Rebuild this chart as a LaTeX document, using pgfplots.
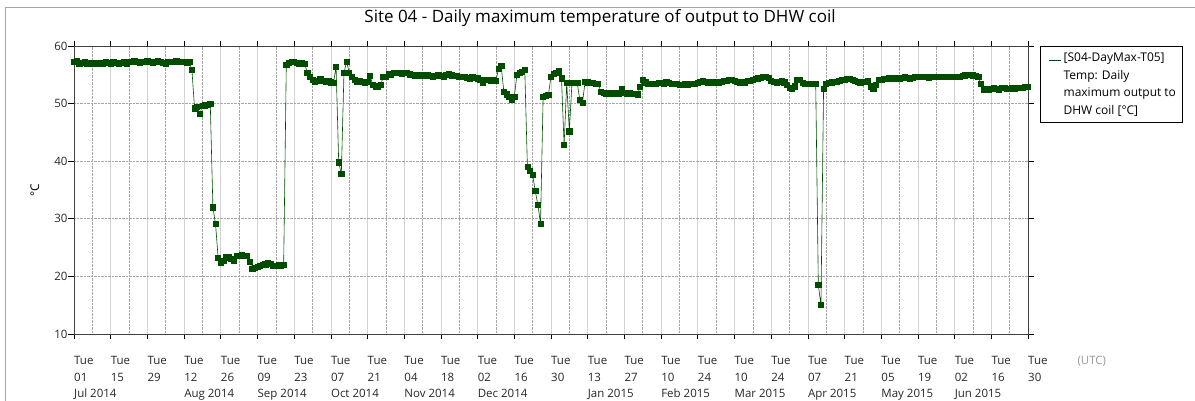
\documentclass[border=0pt]{standalone}
\usepackage{pgfplots}
\pgfplotsset{compat=1.18}
\usepackage{pgfplotstable}
\usepackage{fontspec}
\setmainfont{Open Sans}
\definecolor{dgreen}{RGB}{0,77,0}

\pgfplotstableread[row sep=\\]{
d v\\
0 57.2\\ 1 57.4\\ 2 57.0\\ 3 57.1\\ 4 57.3\\ 5 57.0\\ 6 56.9\\ 7 57.0\\ 8 57.1\\ 9 57.0\\
10 56.9\\ 11 57.0\\ 12 57.2\\ 13 57.1\\ 14 57.0\\ 15 57.3\\ 16 57.1\\ 17 56.9\\ 18 57.1\\ 19 57.2\\
20 57.0\\ 21 57.2\\ 22 57.3\\ 23 57.4\\ 24 57.2\\ 25 57.1\\ 26 57.3\\ 27 57.2\\ 28 57.4\\ 29 57.3\\
30 57.1\\ 31 57.2\\ 32 57.4\\ 33 57.3\\ 34 57.1\\ 35 57.0\\ 36 57.2\\ 37 57.3\\ 38 57.2\\ 39 57.4\\
40 57.2\\ 41 57.3\\ 42 57.2\\ 43 57.1\\ 44 57.2\\ 45 55.8\\ 46 49.2\\ 47 49.5\\ 48 48.2\\ 49 49.6\\
50 49.7\\ 51 49.8\\ 52 49.9\\ 53 32.0\\ 54 29.1\\ 55 23.2\\ 56 22.4\\ 57 22.7\\ 58 23.3\\ 59 23.4\\
60 23.0\\ 61 22.8\\ 62 23.6\\ 63 23.6\\ 64 23.7\\ 65 23.6\\ 66 23.6\\ 67 22.6\\ 68 21.3\\ 69 21.5\\
70 21.6\\ 71 21.8\\ 72 22.0\\ 73 22.1\\ 74 22.3\\ 75 22.2\\ 76 21.9\\ 77 21.9\\ 78 22.0\\ 79 21.9\\
80 22.0\\ 81 56.7\\ 82 57.1\\ 83 57.3\\ 84 57.2\\ 85 57.1\\ 86 57.0\\ 87 57.1\\ 88 56.9\\ 89 55.4\\
90 54.7\\ 91 54.2\\ 92 53.8\\ 93 54.0\\ 94 54.3\\ 95 53.9\\ 96 53.8\\ 97 53.9\\ 98 53.7\\ 99 53.6\\
100 56.4\\ 101 39.8\\ 102 37.8\\ 103 55.3\\ 104 57.3\\ 105 55.4\\ 106 54.6\\ 107 54.2\\ 108 53.8\\ 109 53.9\\
110 53.8\\ 111 53.7\\ 112 53.8\\ 113 54.8\\ 114 53.2\\ 115 52.9\\ 116 53.0\\ 117 53.2\\ 118 54.7\\ 119 54.6\\
120 55.2\\ 121 55.0\\ 122 55.3\\ 123 55.3\\ 124 55.3\\ 125 55.2\\ 126 55.3\\ 127 55.3\\ 128 55.1\\ 129 55.0\\
130 54.9\\ 131 55.0\\ 132 54.8\\ 133 54.9\\ 134 54.8\\ 135 54.9\\ 136 54.8\\ 137 54.7\\ 138 54.8\\ 139 54.9\\
140 54.8\\ 141 54.7\\ 142 55.0\\ 143 55.1\\ 144 54.9\\ 145 54.8\\ 146 54.8\\ 147 54.7\\ 148 54.6\\ 149 54.7\\
150 54.5\\ 151 54.3\\ 152 54.6\\ 153 54.5\\ 154 54.4\\ 155 54.2\\ 156 53.6\\ 157 54.2\\ 158 54.1\\ 159 54.0\\
160 54.1\\ 161 54.0\\ 162 56.1\\ 163 56.5\\ 164 52.1\\ 165 51.6\\ 166 51.2\\ 167 50.6\\ 168 51.2\\ 169 55.0\\
170 55.3\\ 171 55.5\\ 172 55.8\\ 173 39.0\\ 174 38.4\\ 175 37.6\\ 176 34.8\\ 177 32.4\\ 178 29.2\\ 179 51.2\\
180 51.4\\ 181 51.5\\ 182 54.7\\ 183 55.2\\ 184 55.4\\ 185 55.6\\ 186 54.4\\ 187 42.8\\ 188 53.6\\ 189 45.2\\
190 53.6\\ 191 53.6\\ 192 53.6\\ 193 50.6\\ 194 50.1\\ 195 53.8\\ 196 53.7\\ 197 53.6\\ 198 53.6\\ 199 53.5\\
200 53.4\\ 201 52.1\\ 202 51.9\\ 203 51.8\\ 204 51.8\\ 205 51.7\\ 206 51.8\\ 207 51.8\\ 208 51.7\\ 209 52.6\\
210 51.9\\ 211 51.8\\ 212 51.8\\ 213 51.7\\ 214 51.7\\ 215 51.6\\ 216 52.9\\ 217 54.1\\ 218 53.7\\ 219 53.5\\
220 53.4\\ 221 53.5\\ 222 53.5\\ 223 53.6\\ 224 53.6\\ 225 53.5\\ 226 53.7\\ 227 53.6\\ 228 53.5\\ 229 53.5\\
230 53.4\\ 231 53.3\\ 232 53.3\\ 233 53.4\\ 234 53.3\\ 235 53.4\\ 236 53.4\\ 237 53.5\\ 238 53.6\\ 239 53.8\\
240 53.9\\ 241 53.8\\ 242 53.7\\ 243 53.8\\ 244 53.7\\ 245 53.6\\ 246 53.7\\ 247 53.8\\ 248 53.9\\ 249 54.0\\
250 54.1\\ 251 54.2\\ 252 54.0\\ 253 53.8\\ 254 53.7\\ 255 53.6\\ 256 53.7\\ 257 53.9\\ 258 54.0\\ 259 54.2\\
260 54.3\\ 261 54.4\\ 262 54.5\\ 263 54.6\\ 264 54.7\\ 265 54.5\\ 266 54.0\\ 267 53.8\\ 268 53.7\\ 269 53.8\\
270 53.9\\ 271 53.7\\ 272 53.3\\ 273 52.8\\ 274 52.6\\ 275 53.0\\ 276 54.1\\ 277 54.1\\ 278 53.6\\ 279 53.5\\
280 53.5\\ 281 53.5\\ 282 53.4\\ 283 53.5\\ 284 18.5\\ 285 15.0\\ 286 52.6\\ 287 53.5\\ 288 53.6\\ 289 53.7\\
290 53.8\\ 291 53.8\\ 292 54.0\\ 293 54.1\\ 294 54.2\\ 295 54.3\\ 296 54.3\\ 297 54.2\\ 298 54.0\\ 299 53.8\\
300 53.7\\ 301 53.8\\ 302 53.8\\ 303 53.9\\ 304 53.0\\ 305 52.6\\ 306 53.3\\ 307 54.1\\ 308 54.2\\ 309 54.3\\
310 54.3\\ 311 54.4\\ 312 54.4\\ 313 54.3\\ 314 54.4\\ 315 54.4\\ 316 54.5\\ 317 54.6\\ 318 54.5\\ 319 54.4\\
320 54.5\\ 321 54.6\\ 322 54.7\\ 323 54.7\\ 324 54.7\\ 325 54.6\\ 326 54.5\\ 327 54.6\\ 328 54.6\\ 329 54.7\\
330 54.7\\ 331 54.7\\ 332 54.6\\ 333 54.7\\ 334 54.7\\ 335 54.7\\ 336 54.7\\ 337 54.6\\ 338 54.7\\ 339 54.8\\
340 54.9\\ 341 55.0\\ 342 55.0\\ 343 54.9\\ 344 54.8\\ 345 54.7\\ 346 53.5\\ 347 52.4\\ 348 52.6\\ 349 52.5\\
350 52.6\\ 351 52.7\\ 352 52.6\\ 353 52.5\\ 354 52.7\\ 355 52.8\\ 356 52.6\\ 357 52.6\\ 358 52.7\\ 359 52.6\\
360 52.7\\ 361 52.8\\ 362 52.8\\ 363 52.9\\ 364 52.9\\
}\tempdata

\begin{document}
\begin{tikzpicture}
\useasboundingbox (-74pt,-67pt) rectangle (1121pt,334pt);
\draw[gray!70, line width=0.8pt] (-69pt,-70pt) -- (-69pt,327pt) -- (1125pt,327pt);
\begin{axis}[
  scale only axis, width=954pt, height=288pt,
  at={(0pt,0pt)}, anchor=south west,
  xmin=0, xmax=364, ymin=10, ymax=60,
  xtick={0,14,...,364},
  xticklabels={{Tue\\01\\Jul 2014},{Tue\\15},{Tue\\29},{Tue\\12\\Aug 2014},{Tue\\26},
    {Tue\\09\\Sep 2014},{Tue\\23},{Tue\\07\\Oct 2014},{Tue\\21},{Tue\\04\\Nov 2014},{Tue\\18},
    {Tue\\02\\Dec 2014},{Tue\\16},{Tue\\30},{Tue\\13\\Jan 2015},{Tue\\27},{Tue\\10\\Feb 2015},{Tue\\24},
    {Tue\\10\\Mar 2015},{Tue\\24},{Tue\\07\\Apr 2015},{Tue\\21},{Tue\\05\\May 2015},{Tue\\19},
    {Tue\\02\\Jun 2015},{Tue\\16},{Tue\\30}},
  minor x tick num=1,
  ytick={10,20,...,60},
  tick align=outside,
  major tick length=5.5pt, minor tick length=0pt,
  tick style={black, line width=0.6pt},
  xmajorgrids, xminorgrids, ymajorgrids,
  major x grid style={gray!35, line width=0.6pt},
  minor x grid style={gray!70, densely dotted, line width=0.6pt},
  major y grid style={gray!70, densely dotted, line width=0.6pt},
  axis line style={black!75, line width=0.6pt},
  xticklabel style={anchor=north west, align=left, inner xsep=0pt, yshift=-13.5pt, font=\fontsize{11.5}{16.5}\selectfont, text=black!85},
  yticklabel style={xshift=2.5pt, font=\fontsize{11.5}{14}\selectfont, text=black!85},
  /pgf/number format/assume math mode=true,
  ylabel={°C},
  ylabel style={at={(axis description cs:-0.041,0.5)}, anchor=center, font=\fontsize{12}{14}\selectfont},
  title={Site 04 - Daily maximum temperature of output to DHW coil},
  title style={at={(axis description cs:0.5514,1)}, anchor=base, yshift=18pt, font=\fontsize{17}{20}\selectfont},
  legend style={at={(rel axis cs:1,1)}, anchor=north west, xshift=12pt, draw=black, line width=0.6pt,
    font=\fontsize{12}{17.5}\selectfont, nodes={align=left}, inner xsep=4pt, inner ysep=4.5pt},
  legend cell align=left,
  legend image code/.code={\path[draw=none, fill=none] (0pt,24pt) rectangle (1pt,24pt); \draw[#1, mark=none] (5pt,24pt) -- (17pt,24pt);},
]
\addplot[dgreen, line width=0.6pt, mark=square*, mark size=2.6pt, mark options={fill=dgreen, draw=dgreen}] table[x=d, y=v]{\tempdata};
\addlegendentry{[S04-DayMax-T05]\\Temp: Daily\\maximum output to\hspace{14pt}\\DHW coil [°C]}
\end{axis}
\node[anchor=base west, text=gray!80, font=\fontsize{11.5}{14}\selectfont] at (1000pt,-31pt) {(UTC)};
\end{tikzpicture}
\end{document}
